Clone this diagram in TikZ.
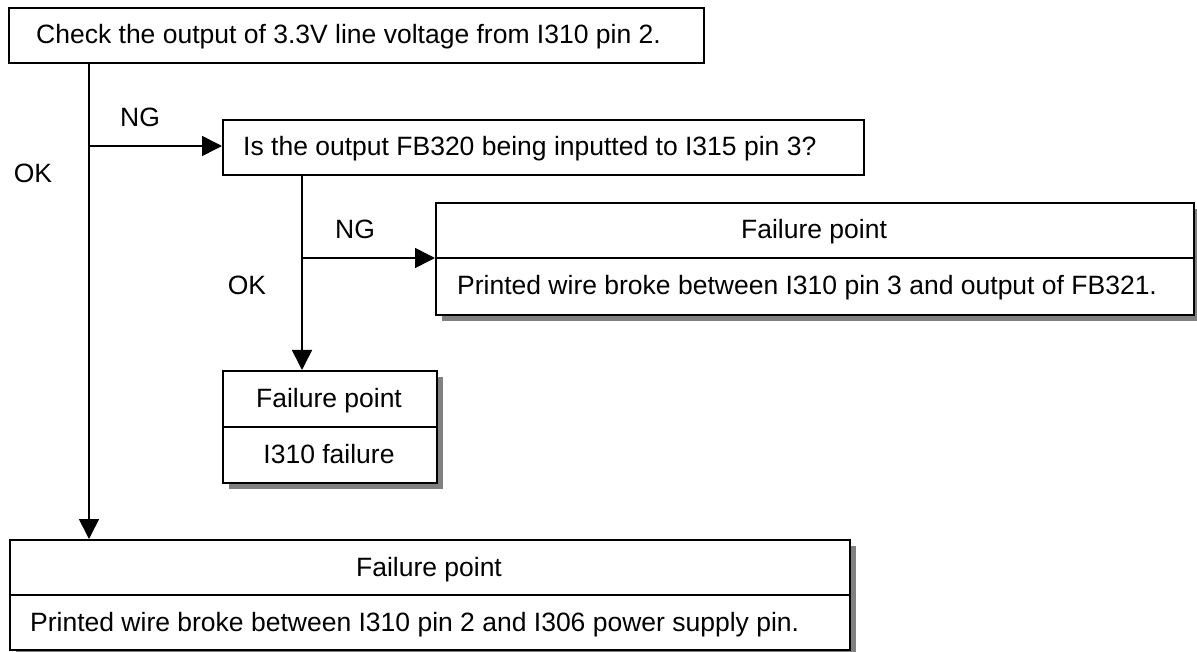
\documentclass[tikz,border=0pt]{standalone}
\usepackage{fontspec}
\setmainfont{Liberation Sans}
\usetikzlibrary{arrows.meta,shadows}
\begin{document}
\begin{tikzpicture}[x=1pt,y=-1pt,
  every node/.style={font=\fontsize{26.5}{30}\selectfont, inner sep=0pt},
  box/.style={draw=black, line width=1.6pt, fill=white, rectangle},
  shbox/.style={box, drop shadow={shadow xshift=6pt, shadow yshift=-6pt, fill=black!50, opacity=1}},
  txt/.style={anchor=base west},
  ctxt/.style={anchor=base},
  conn/.style={line width=1.6pt},
  arr/.style={conn, -{Triangle[length=20pt,width=20pt]}},
  lbl/.style={anchor=center}
]
\useasboundingbox (0,0) rectangle (1197,652);

% boxes (drawn as nodes from corners)
\node[box, minimum width=695pt, minimum height=55pt, anchor=north west] (b1) at (8,7) {};
\node[txt] (t1) at (36,43.5) {Check the output of 3.3V line voltage from I310 pin 2.};

\node[box, minimum width=641pt, minimum height=55pt, anchor=north west] (b2) at (222,119) {};
\node[txt] (t2) at (243,156) {Is the output FB320 being inputted to I315 pin 3?};

\node[shbox, minimum width=758pt, minimum height=112pt, anchor=north west] (fa) at (435,202) {};
\draw[conn] (fa.west |- 0,258) -- (fa.east |- 0,258);
\node[ctxt] (fa1) at (814,239) {Failure point};
\node[txt] (fa2) at (457,295) {Printed wire broke between I310 pin 3 and output of FB321.};

\node[shbox, minimum width=214pt, minimum height=112pt, anchor=north west] (fb) at (222,370) {};
\draw[conn] (fb.west |- 0,427) -- (fb.east |- 0,427);
\node[ctxt] (fb1) at (329,407.5) {Failure point};
\node[ctxt] (fb2) at (329,463.5) {I310 failure};

\node[shbox, minimum width=840pt, minimum height=110pt, anchor=north west] (fc) at (9,539) {};
\draw[conn] (fc.west |- 0,595) -- (fc.east |- 0,595);
\node[ctxt] (fc1) at (429,576) {Failure point};
\node[txt] (fc2) at (30,631) {Printed wire broke between I310 pin 2 and I306 power supply pin.};

% connectors
\coordinate (j1) at (89,146);
\coordinate (j2) at (302,258);
\draw[arr] (b1.south -| j1) -- (fc.north -| j1);
\draw[arr] (j1) -- (j1 -| b2.west);
\draw[arr] (b2.south -| j2) -- (fb.north -| j2);
\draw[arr] (j2) -- (j2 -| fa.west);

% labels
\node[lbl] (ng1) at (140,117) {NG};
\node[lbl] (ok1) at (33,173) {OK};
\node[lbl] (ng2) at (355,229) {NG};
\node[lbl] (ok2) at (247,285) {OK};
\end{tikzpicture}
\end{document}
